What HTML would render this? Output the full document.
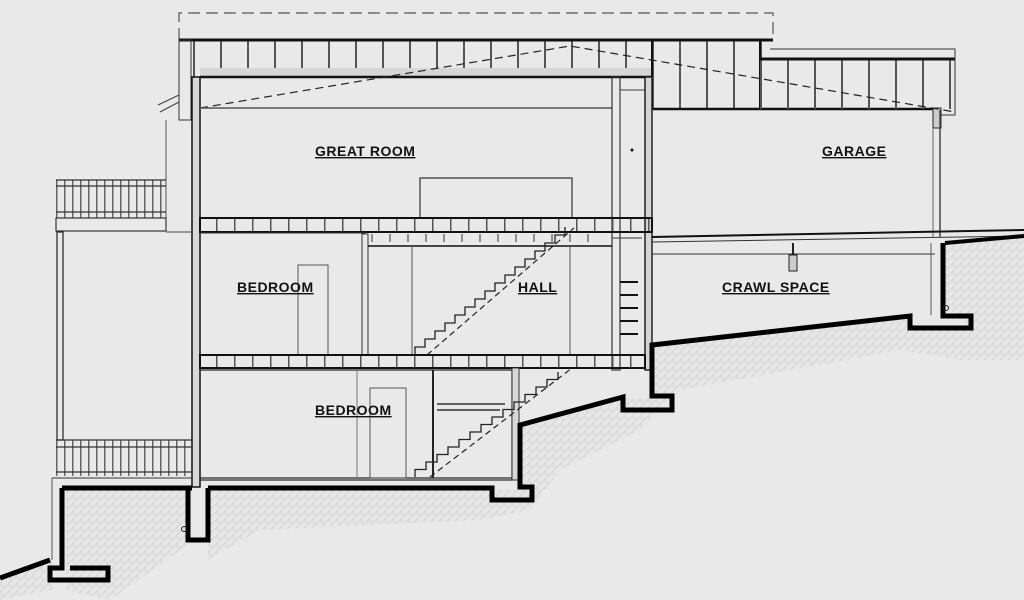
<!DOCTYPE html>
<html><head><meta charset="utf-8"><style>
html,body{margin:0;padding:0;background:#e9e9e9;}
svg{display:block;}
text{font-family:"Liberation Sans",sans-serif;font-weight:bold;font-size:14px;fill:#111;text-decoration:underline;letter-spacing:0.5px;}
</style></head><body>
<svg width="1024" height="600" viewBox="0 0 1024 600" xmlns="http://www.w3.org/2000/svg">
<defs>
<pattern id="stud" width="27" height="100" patternUnits="userSpaceOnUse" x="4">
<rect x="0" y="0" width="2" height="100" fill="#555"/>
</pattern>
<pattern id="joist" width="18" height="20" patternUnits="userSpaceOnUse">
<rect x="0" y="0" width="1.5" height="20" fill="#555"/>
</pattern>
<pattern id="hatch" width="8" height="8" patternUnits="userSpaceOnUse">
<rect width="8" height="8" fill="#e6e6e6"/>
<path d="M0,8 L8,0 M0,0 L4,4" stroke="#cfcfcf" stroke-width="0.7"/>
</pattern>
<pattern id="rail" width="8" height="40" patternUnits="userSpaceOnUse">
<rect x="0" y="0" width="1.5" height="40" fill="#666"/>
</pattern>
</defs>
<rect width="1024" height="600" fill="#e9e9e9"/>

<!-- ground hatch bands -->
<path d="M0,578 L52,558 L52,590 L0,600 Z" fill="url(#hatch)"/>
<path d="M66,490 L188,490 L188,545 L110,600 L66,590 Z" fill="url(#hatch)"/>
<path d="M208,490 L520,490 L520,425 L625,398 L650,398 L650,345 L912,318 L912,330 L972,330 L940,300 L945,243 L1024,232 L1024,360 L960,360 L900,350 L680,390 L640,430 L560,470 L530,510 L480,520 L260,530 L208,560 Z" fill="url(#hatch)"/>

<!-- dashed roof outline -->
<path d="M179,40 V13 H773 V40" fill="none" stroke="#555" stroke-width="1.2" stroke-dasharray="12,6"/>

<!-- main roof trusses -->
<rect x="182" y="40" width="591" height="37" fill="url(#stud)"/>
<rect x="652" y="77" width="108" height="32" fill="url(#stud)"/>
<rect x="200" y="68" width="452" height="8" fill="#d6d6d6"/>
<line x1="179" y1="40" x2="773" y2="40" stroke="#111" stroke-width="3"/>
<line x1="200" y1="77" x2="652" y2="77" stroke="#111" stroke-width="2.5"/>
<line x1="652" y1="109" x2="940" y2="109" stroke="#111" stroke-width="2.5"/>
<line x1="652" y1="40" x2="652" y2="109" stroke="#111" stroke-width="2"/>
<line x1="760" y1="40" x2="760" y2="109" stroke="#111" stroke-width="2"/>
<!-- garage roof -->
<rect x="760" y="59" width="195" height="50" fill="url(#stud)"/>
<line x1="760" y1="59" x2="955" y2="59" stroke="#111" stroke-width="3"/>
<path d="M770,49 H955 V115 H940" fill="none" stroke="#333" stroke-width="1"/>
<rect x="933" y="108" width="8" height="20" fill="#ccc" stroke="#222"/>
<!-- dashed roof slopes -->
<path d="M200,108 L570,46 L955,112" fill="none" stroke="#222" stroke-width="1.2" stroke-dasharray="8,5"/>
<!-- left eave -->
<path d="M158,105 L179,95 M160,112 L179,102" stroke="#444" stroke-width="1.2"/>
<rect x="179" y="40" width="12" height="80" fill="none" stroke="#333"/>

<!-- exterior left wall -->
<rect x="192" y="77" width="8" height="410" fill="#d8d8d8" stroke="#111" stroke-width="1.5"/>
<line x1="166" y1="120" x2="166" y2="218" stroke="#555"/>

<!-- great room -->
<line x1="200" y1="108" x2="612" y2="108" stroke="#555" stroke-width="1.5"/>
<rect x="612" y="77" width="8" height="293" fill="none" stroke="#333" stroke-width="1.2"/>
<rect x="620" y="90" width="25" height="128" fill="none" stroke="#444"/>
<rect x="645" y="77" width="7" height="293" fill="#d5d5d5" stroke="#222" stroke-width="1.5"/>
<circle cx="632" cy="150" r="1.5" fill="#111"/>
<path d="M420,218 V178 H572 V218" fill="none" stroke="#333" stroke-width="1.2"/>
<text x="315" y="156">GREAT ROOM</text>

<!-- floor 2 band -->
<rect x="200" y="218" width="452" height="14" fill="url(#joist)"/>
<rect x="200" y="218" width="452" height="14" fill="none" stroke="#111" stroke-width="2"/>

<!-- garage -->
<line x1="940" y1="110" x2="940" y2="237" stroke="#444" stroke-width="1.5"/>
<line x1="933" y1="128" x2="933" y2="237" stroke="#666"/>
<line x1="652" y1="237" x2="1024" y2="230" stroke="#111" stroke-width="2"/>
<line x1="652" y1="242" x2="1024" y2="236" stroke="#333" stroke-width="1"/>
<line x1="652" y1="254" x2="935" y2="254" stroke="#333" stroke-width="1"/>
<rect x="789" y="255" width="8" height="16" fill="#ccc" stroke="#222"/>
<line x1="793" y1="243" x2="793" y2="255" stroke="#222" stroke-width="2"/>
<line x1="931" y1="243" x2="931" y2="315" stroke="#555"/>
<text x="822" y="156">GARAGE</text>
<text x="722" y="292">CRAWL SPACE</text>

<!-- middle floor -->
<line x1="200" y1="233" x2="365" y2="233" stroke="#333"/>
<rect x="362" y="234" width="6" height="121" fill="none" stroke="#333"/>
<line x1="368" y1="246" x2="612" y2="246" stroke="#111" stroke-width="1.5"/>
<path d="M372,234 v8 M390,234 v8 M408,234 v8 M426,234 v8 M444,234 v8 M462,234 v8 M480,234 v8 M498,234 v8 M516,234 v8 M534,234 v8 M552,234 v8 M570,234 v8 M588,234 v8" stroke="#333"/>
<line x1="412" y1="246" x2="412" y2="355" stroke="#555"/>
<line x1="570" y1="246" x2="570" y2="355" stroke="#555"/>
<rect x="298" y="265" width="30" height="90" fill="none" stroke="#555"/>
<path d="M620,282 h18 M620,295 h18 M620,308 h18 M620,321 h18 M620,334 h18" stroke="#111" stroke-width="2"/>
<path d="M612,238 h30" stroke="#333"/>
<!-- upper stair -->
<path d="M415,355 v-8 h10 v-8 h10 v-8 h10 v-8 h10 v-8 h10 v-8 h10 v-8 h10 v-8 h10 v-8 h10 v-8 h10 v-8 h10 v-8 h10 v-8 h10 v-8 h10 v-8 h10 v-8" fill="none" stroke="#222" stroke-width="1.3"/>
<line x1="427" y1="355" x2="574" y2="228" stroke="#222" stroke-width="1.2" stroke-dasharray="6,4"/>
<text x="237" y="292">BEDROOM</text>
<text x="518" y="292">HALL</text>

<!-- floor 1 band -->
<rect x="200" y="355" width="445" height="13" fill="url(#joist)"/>
<rect x="200" y="355" width="445" height="13" fill="none" stroke="#111" stroke-width="2"/>

<!-- lower floor -->
<rect x="200" y="370" width="312" height="108" fill="none" stroke="#222" stroke-width="1.2"/>
<line x1="433" y1="370" x2="433" y2="478" stroke="#222" stroke-width="2"/>
<rect x="370" y="388" width="36" height="90" fill="none" stroke="#555"/>
<line x1="357" y1="370" x2="357" y2="478" stroke="#777"/>
<path d="M437,404 H505 M437,410 H500" stroke="#333" stroke-width="1.5"/>
<rect x="512" y="368" width="7" height="112" fill="#d8d8d8" stroke="#333"/>
<path d="M415,477 v-7.5 h11 v-7.5 h11 v-7.5 h11 v-7.5 h11 v-7.5 h11 v-7.5 h11 v-7.5 h11 v-7.5 h11 v-7.5 h11 v-7.5 h11 v-7.5 h11 v-7.5 h11 v-7.5 h11 v-7.5" fill="none" stroke="#222" stroke-width="1.3"/>
<line x1="430" y1="477" x2="572" y2="368" stroke="#222" stroke-width="1.2" stroke-dasharray="6,4"/>
<line x1="200" y1="480" x2="512" y2="480" stroke="#333" stroke-width="1.2"/>
<text x="315" y="415">BEDROOM</text>

<!-- left decks -->
<rect x="56" y="180" width="110" height="38" fill="url(#rail)"/>
<path d="M56,180 H166 M56,186 H166 M56,212 H166" stroke="#333" stroke-width="1.2"/>
<rect x="56" y="218" width="110" height="13" fill="none" stroke="#333" stroke-width="1.2"/>
<line x1="166" y1="232" x2="192" y2="232" stroke="#444"/>
<rect x="57" y="232" width="6" height="208" fill="none" stroke="#222" stroke-width="1.2"/>
<rect x="56" y="440" width="136" height="36" fill="url(#rail)"/>
<path d="M56,440 H192 M56,447 H192 M56,472 H192" stroke="#333" stroke-width="1.2"/>
<line x1="52" y1="478" x2="192" y2="478" stroke="#333"/>
<line x1="52" y1="478" x2="52" y2="560" stroke="#555"/>

<!-- foundation heavy lines -->
<g fill="none" stroke="#000" stroke-width="5" stroke-linejoin="miter">
<path d="M0,578 L50,560"/>
<path d="M62,488 H192"/>
<path d="M62,488 V568 H50 V580 H108 V568 H70"/>
<path d="M188,488 V540 H208 V488"/>
<path d="M208,488 H492 V500 H532 V487 H520 V425 L623,397 V410 H672 V396 H652 V345 L910,316 V328 H971 V316 H943 V243"/>
</g>
<path d="M945,243 L1024,236" stroke="#000" stroke-width="4"/>
<circle cx="184" cy="529" r="2.5" fill="none" stroke="#222"/>
<circle cx="946" cy="308" r="2.5" fill="none" stroke="#222"/>
</svg>
</body></html>
